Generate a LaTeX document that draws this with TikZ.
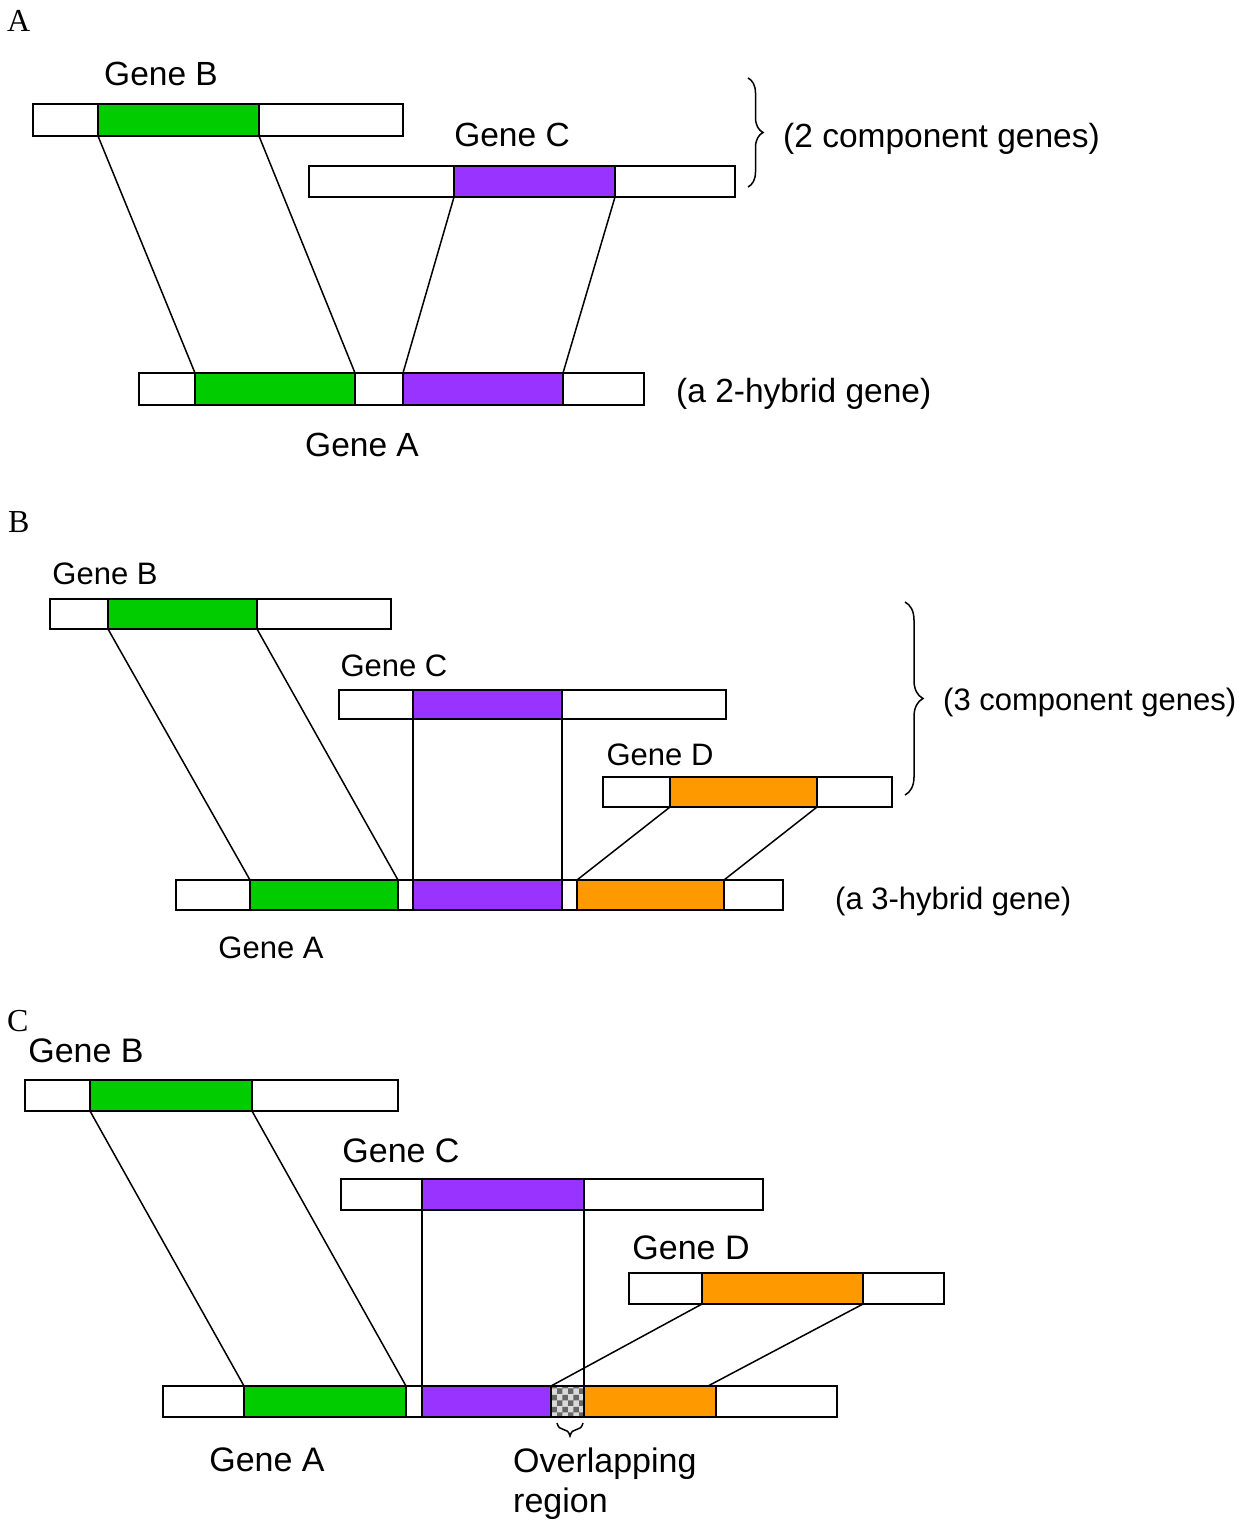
\documentclass[tikz,border=0pt]{standalone}
\usepackage{fontspec}
\setmainfont{Liberation Sans}
\newfontfamily\panelfont{Liberation Serif}
\usetikzlibrary{decorations.pathreplacing,patterns}
\definecolor{genegreen}{HTML}{00CC00}
\definecolor{genepurple}{HTML}{9933FF}
\definecolor{geneorange}{HTML}{FF9900}
\tikzset{
  segbox/.style={draw=black, line width=2pt, inner sep=0pt, outer sep=0pt, anchor=north west},
  overlapbox/.style={segbox, preaction={fill=gray!30}, pattern=checkerboard, pattern color=gray!80!black},
  link/.style={line width=1.5pt},
  lbl/.style={inner sep=0pt, anchor=base},
  lblw/.style={inner sep=0pt, anchor=base west},
  panel/.style={inner sep=0pt, anchor=base west, font=\panelfont\fontsize{32}{38}\selectfont},
  curly/.style={decorate, decoration={brace, amplitude=#1}, line width=1.5pt},
  fA/.style={font=\fontsize{33.5}{40}\selectfont},
  fB/.style={font=\fontsize{31}{37}\selectfont},
  fC/.style={font=\fontsize{34}{40}\selectfont},
}
% one segment of a gene bar: name, x-left, x-right, y-top, y-bottom, fill
\newcommand\gseg[6]{\node[segbox, fill=#6, minimum width={(#3-#2)*1pt}, minimum height={(#5-#4)*1pt}] (#1) at (#2,#4) {};}
\begin{document}
\begin{tikzpicture}[x=1pt, y=-1pt]
\useasboundingbox[fill=white] (0,0) rectangle (1250,1520);

% ---------------- Panel A ----------------
\node[panel] (pA) at (7,32) {A};
\gseg{aB1}{33}{98}{104}{136}{white}
\gseg{aB2}{98}{259}{104}{136}{genegreen}
\gseg{aB3}{259}{403}{104}{136}{white}
\gseg{aC1}{309}{454}{166}{197}{white}
\gseg{aC2}{454}{615}{166}{197}{genepurple}
\gseg{aC3}{615}{735}{166}{197}{white}
\gseg{aA1}{139}{195}{373}{405}{white}
\gseg{aA2}{195}{355}{373}{405}{genegreen}
\gseg{aA3}{355}{403}{373}{405}{white}
\gseg{aA4}{403}{563}{373}{405}{genepurple}
\gseg{aA5}{563}{644}{373}{405}{white}
\draw[link] (aB2.south west) -- (aA2.north west);
\draw[link] (aB2.south east) -- (aA2.north east);
\draw[link] (aC2.south west) -- (aA4.north west);
\draw[link] (aC2.south east) -- (aA4.north east);
\node[lbl, fA] (aBl) at (161,85) {Gene B};
\node[lbl, fA] (aCl) at (512,146) {Gene C};
\node[lbl, fA] (aAl) at (362,456) {Gene A};
\draw[curly=15pt] (748,78) -- (748,187);
\node[lblw, fA] (aComp) at (783,147) {(2 component genes)};
\node[lblw, fA] (aHyb) at (676,402) {(a 2-hybrid gene)};

% ---------------- Panel B ----------------
\node[panel] (pB) at (8,532) {B};
\gseg{bB1}{50}{108}{599}{629}{white}
\gseg{bB2}{108}{257}{599}{629}{genegreen}
\gseg{bB3}{257}{391}{599}{629}{white}
\gseg{bC1}{339}{413}{690}{719}{white}
\gseg{bC2}{413}{562}{690}{719}{genepurple}
\gseg{bC3}{562}{726}{690}{719}{white}
\gseg{bD1}{603}{670}{777}{807}{white}
\gseg{bD2}{670}{817}{777}{807}{geneorange}
\gseg{bD3}{817}{892}{777}{807}{white}
\gseg{bA1}{176}{250}{880}{910}{white}
\gseg{bA2}{250}{398}{880}{910}{genegreen}
\gseg{bA3}{398}{413}{880}{910}{white}
\gseg{bA4}{413}{562}{880}{910}{genepurple}
\gseg{bA5}{562}{577}{880}{910}{white}
\gseg{bA6}{577}{724}{880}{910}{geneorange}
\gseg{bA7}{724}{783}{880}{910}{white}
\draw[link] (bB2.south west) -- (bA2.north west);
\draw[link] (bB2.south east) -- (bA2.north east);
\draw[link] (bC2.south west) -- (bA4.north west);
\draw[link] (bC2.south east) -- (bA4.north east);
\draw[link] (bD2.south west) -- (bA6.north west);
\draw[link] (bD2.south east) -- (bA6.north east);
\node[lbl, fB] (bBl) at (105,584) {Gene B};
\node[lbl, fB] (bCl) at (394,676) {Gene C};
\node[lbl, fB] (bDl) at (660,765) {Gene D};
\node[lbl, fB] (bAl) at (271,958) {Gene A};
\draw[curly=18pt] (905,602) -- (905,795);
\node[lblw, fB] (bComp) at (943,710) {(3 component genes)};
\node[lblw, fB] (bHyb) at (835,909) {(a 3-hybrid gene)};

% ---------------- Panel C ----------------
\node[panel] (pC) at (7,1031) {C};
\gseg{cB1}{25}{90}{1080}{1111}{white}
\gseg{cB2}{90}{252}{1080}{1111}{genegreen}
\gseg{cB3}{252}{398}{1080}{1111}{white}
\gseg{cC1}{341}{422}{1179}{1210}{white}
\gseg{cC2}{422}{584}{1179}{1210}{genepurple}
\gseg{cC3}{584}{763}{1179}{1210}{white}
\gseg{cD1}{629}{702}{1273}{1304}{white}
\gseg{cD2}{702}{863}{1273}{1304}{geneorange}
\gseg{cD3}{863}{944}{1273}{1304}{white}
\gseg{cA1}{163}{244}{1386}{1417}{white}
\gseg{cA2}{244}{406}{1386}{1417}{genegreen}
\gseg{cA3}{406}{422}{1386}{1417}{white}
\gseg{cA4}{422}{551}{1386}{1417}{genepurple}
\node[overlapbox, minimum width=33pt, minimum height=31pt] (cA5) at (551,1386) {};
\gseg{cA6}{584}{716}{1386}{1417}{geneorange}
\gseg{cA7}{716}{837}{1386}{1417}{white}
\draw[link] (cB2.south west) -- (cA2.north west);
\draw[link] (cB2.south east) -- (cA2.north east);
\draw[link] (cC2.south west) -- (cA4.north west);
\draw[link] (cC2.south east) -- (cA5.north east);
\draw[link] (cD2.south west) -- (cA5.north west);
\draw[link] (cD2.south east) -- ([xshift=-8pt]cA6.north east);
\node[lbl, fC] (cBl) at (86,1062) {Gene B};
\node[lbl, fC] (cCl) at (401,1162) {Gene C};
\node[lbl, fC] (cDl) at (691,1259) {Gene D};
\node[lbl, fC] (cAl) at (267,1471) {Gene A};
% small brace under the overlap, tip pointing down
\draw[curly=13pt] ([xshift=-1pt,yshift=-6pt]cA5.south east) -- ([xshift=6pt,yshift=-6pt]cA5.south west);
\node[lblw, fC] (cOv) at (513,1472) {Overlapping};
\node[lblw, fC] (cReg) at (513,1512) {region};
\end{tikzpicture}
\end{document}
